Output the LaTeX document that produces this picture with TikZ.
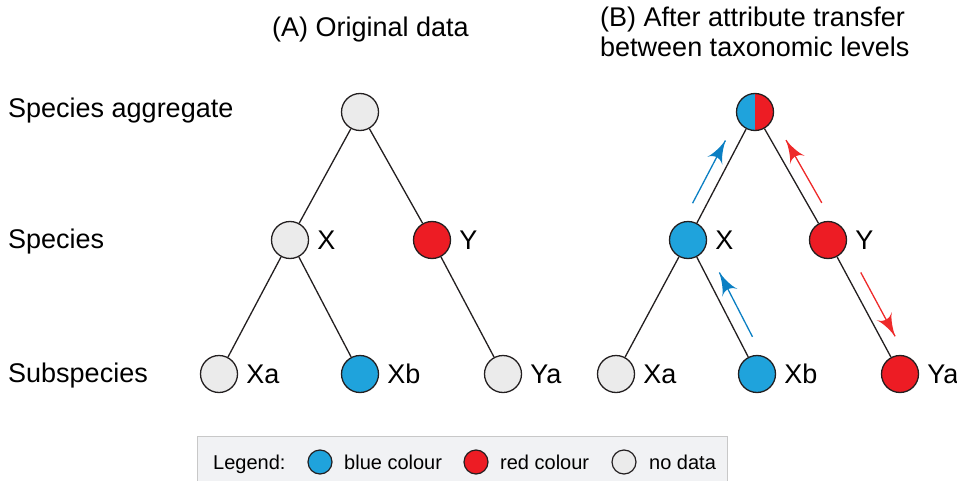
\documentclass[tikz,border=0pt]{standalone}
\usepackage{fontspec}
\setmainfont{Liberation Sans}
\usetikzlibrary{arrows}
\usetikzlibrary{calc}
\usetikzlibrary{decorations.markings}
\definecolor{cblue}{HTML}{1FA3DC}
\definecolor{cred}{HTML}{ED1C24}
\definecolor{cgray}{HTML}{EBEBEB}
\definecolor{cline}{HTML}{231F20}
\definecolor{ablue}{HTML}{0B7FC3}
\definecolor{ared}{HTML}{EE2A2A}
\definecolor{legbg}{HTML}{F1F2F4}
\definecolor{legframe}{HTML}{C8C8C8}
\tikzset{taxon/.style = {circle, draw=cline, line width=1.3pt, minimum size=37pt,
                         inner sep=0pt},
         nodata/.style = {taxon, fill=cgray},
         bluedata/.style = {taxon, fill=cblue},
         reddata/.style = {taxon, fill=cred},
         edge/.style = {draw=cline, line width=1.3pt},
         transfer/.style = {line width=1.3pt,
                            decoration={markings,
                                        mark=at position 1 with {\arrow[scale=3.4]{latex'}}},
                            postaction={decorate}},
         legdot/.style = {circle, draw=cline, line width=1.2pt, minimum size=24pt, inner sep=0pt}}

\begin{document}
\begin{tikzpicture}[x=1pt, y=-1pt, font=\fontsize{27}{32}\selectfont,
                    label distance=8pt, every label/.style={inner sep=0pt}]
    \useasboundingbox (0, 0) rectangle (957, 481);

    % row titles
    \node [anchor=base west, inner sep=0pt] (rowagg) at (8, 118) {Species aggregate};
    \node [anchor=base west, inner sep=0pt] (rowsp) at (8, 248) {Species};
    \node [anchor=base west, inner sep=0pt] (rowsub) at (8, 382) {Subspecies};

    % (A) original data
    \node [anchor=base west, inner sep=0pt] (titleA) at (272, 37) {(A) Original data};
    \node [nodata] (aT) at (360, 112) {};
    \node [nodata, label=right:X] (aX) at (290, 240) {};
    \node [reddata, label=right:Y] (aY) at (432, 240) {};
    \node [nodata, label=right:Xa] (aXa) at (219, 374) {};
    \node [bluedata, label=right:Xb] (aXb) at (360, 374) {};
    \node [nodata, label=right:Ya] (aYa) at (503, 374) {};
    \draw [edge] (aT) -- (aX);
    \draw [edge] (aT) -- (aY);
    \draw [edge] (aX) -- (aXa);
    \draw [edge] (aX) -- (aXb);
    \draw [edge] (aY) -- (aYa);

    % (B) after transfer
    \node [anchor=base west, inner sep=0pt] (titleB) at (600, 27) {(B) After attribute transfer};
    \node [anchor=base west, inner sep=0pt] (titleBb) at (600, 57) {between taxonomic levels};
    \node [taxon, path picture={
             \fill [cblue] (path picture bounding box.south west) rectangle (path picture bounding box.north);
             \fill [cred] (path picture bounding box.south) rectangle (path picture bounding box.north east);}]
          (bT) at (755, 112) {};
    \node [bluedata, label=right:X] (bX) at (688, 240) {};
    \node [reddata, label=right:Y] (bY) at (828, 240) {};
    \node [nodata, label=right:Xa] (bXa) at (616, 374) {};
    \node [bluedata, label=right:Xb] (bXb) at (757, 374) {};
    \node [reddata, label=right:Ya] (bYa) at (900, 374) {};
    \draw [edge] (bT) -- (bX);
    \draw [edge] (bT) -- (bY);
    \draw [edge] (bX) -- (bXa);
    \draw [edge] (bX) -- (bXb);
    \draw [edge] (bY) -- (bYa);

    \draw [transfer, ablue] ($(bX)!.24!(bT)!13pt!90:(bT)$) -- ($(bX)!.73!(bT)!13pt!-90:(bX)$);
    \draw [transfer, ared] ($(bY)!.24!(bT)!13pt!-90:(bT)$) -- ($(bY)!.73!(bT)!13pt!90:(bY)$);
    \draw [transfer, ablue] ($(bXb)!.233!(bX)!13pt!-90:(bX)$) -- ($(bXb)!.713!(bX)!13pt!90:(bXb)$);
    \draw [transfer, ared] ($(bY)!.29!(bYa)!13.5pt!90:(bYa)$) -- ($(bY)!.766!(bYa)!13.5pt!-90:(bY)$);

    % legend
    \filldraw [fill=legbg, draw=legframe, line width=1pt] (197, 436) rectangle (727, 486);
    \begin{scope}[font=\fontsize{20}{24}\selectfont]
      \node [anchor=base west, inner sep=0pt] (legtitle) at (213, 469) {Legend:};
      \node [legdot, fill=cblue] (legblue) at (320, 462) {};
      \node [anchor=base west, inner sep=0pt] (legbluetext) at (344, 469) {blue colour};
      \node [legdot, fill=cred] (legred) at (476, 462) {};
      \node [anchor=base west, inner sep=0pt] (legredtext) at (500, 469) {red colour};
      \node [legdot, fill=cgray] (leggray) at (624, 462) {};
      \node [anchor=base west, inner sep=0pt] (leggraytext) at (649, 469) {no data};
    \end{scope}
  \end{tikzpicture}
\end{document}
